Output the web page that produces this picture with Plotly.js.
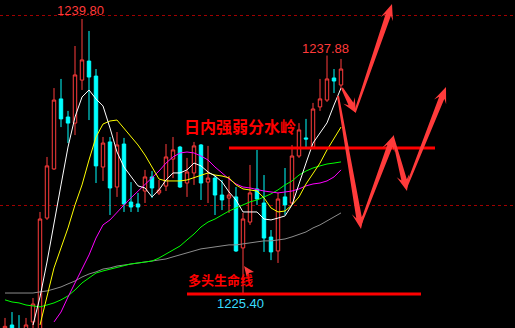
<!DOCTYPE html>
<html>
<head>
<meta charset="utf-8">
<script src="https://cdn.plot.ly/plotly-3.0.1.min.js"></script>
<style>html,body{margin:0;padding:0;background:#000;}#chart{width:515px;height:328px;}</style>
</head>
<body>
<div id="chart"></div>
<script>
// ---- data (49 bars) ----
const openP  = [1223.50,1223.72,1223.45,1223.30,1223.88,1223.00,1229.34,1231.92,1235.60,1234.65,
                1234.33,1236.59,1237.59,1236.80,1232.02,1233.34,1230.97,1233.23,1230.18,1230.08,
                1230.76,1231.50,1230.66,1231.02,1232.44,1233.07,1231.18,1231.71,1233.18,1231.23,
                1231.44,1230.55,1230.39,1230.45,1227.77,1229.13,1230.87,1230.13,1228.34,1227.61,
                1230.45,1230.13,1232.60,1233.55,1233.07,1235.18,1235.54,1236.70,1236.33];
const highP  = [1224.09,1224.40,1224.24,1224.09,1225.14,1229.66,1232.55,1236.17,1236.65,1234.97,
                1238.38,1239.80,1239.17,1237.17,1233.60,1233.60,1233.86,1233.55,1231.23,1230.66,
                1231.87,1231.81,1231.34,1233.23,1233.60,1233.13,1232.50,1233.34,1233.23,1233.13,
                1231.55,1231.34,1231.55,1230.97,1229.61,1232.13,1232.92,1231.60,1228.71,1230.66,
                1231.97,1233.18,1234.33,1234.55,1235.39,1236.65,1237.88,1237.17,1237.70];
const lowP   = [1223.40,1223.20,1223.20,1223.20,1223.50,1222.80,1229.24,1231.87,1234.12,1233.28,
                1233.70,1236.07,1234.49,1231.18,1231.29,1229.50,1230.45,1229.66,1229.66,1229.66,
                1230.13,1230.39,1230.55,1230.76,1231.44,1230.92,1230.45,1231.08,1230.29,1230.13,
                1229.50,1229.76,1229.61,1227.56,1225.40,1228.98,1230.03,1227.56,1227.13,1226.98,
                1229.50,1230.03,1232.50,1233.02,1233.02,1234.97,1235.44,1235.91,1236.17];
const closeP = [1223.65,1223.40,1223.30,1223.72,1224.82,1229.29,1232.08,1235.54,1234.55,1234.33,
                1236.86,1237.65,1236.75,1232.08,1233.28,1230.92,1233.18,1230.08,1229.92,1229.92,
                1231.50,1230.92,1230.81,1232.55,1232.92,1230.97,1231.76,1233.13,1231.18,1231.44,
                1230.55,1230.29,1230.55,1227.61,1229.29,1230.66,1230.34,1228.29,1227.56,1230.34,
                1230.03,1232.60,1233.97,1233.49,1235.07,1235.60,1236.65,1236.54,1237.17];

// moving averages (null where not drawn)
const maWhite = [null,null,null,null,1223.72,1225.19,1227.03,1229.13,1231.08,1233.07,
                 1234.65,1235.70,1236.07,1235.60,1235.23,1234.07,1232.81,1232.02,1231.55,1231.03,
                 1230.92,1230.45,1230.82,1231.34,1231.71,1231.71,1231.87,1232.23,1232.08,1231.76,
                 1231.55,1231.24,1230.71,1230.29,1229.66,1229.66,1229.66,1229.29,1229.24,1229.34,
                 1229.45,1230.03,1231.18,1232.23,1233.28,1233.81,1234.34,1235.28,1236.17];
const maYellow = [null,null,null,null,null,1223.72,1225.30,1226.72,1227.77,1228.82,
                 1230.03,1231.08,1232.39,1233.60,1234.28,1234.44,1234.49,1234.07,1233.60,1233.18,
                 1232.65,1232.02,1231.39,1231.29,1231.29,1231.29,1231.34,1231.45,1231.60,1231.71,
                 1231.60,1231.55,1231.45,1231.08,1230.87,1230.82,1230.76,1230.40,1229.87,1229.66,
                 1229.71,1230.03,1230.45,1231.13,1231.71,1232.23,1232.92,1233.55,1234.12];
const maMagenta = [null,null,null,null,null,null,null,1223.88,1224.40,1225.19,
                 1225.93,1226.72,1227.40,1228.29,1228.98,1229.24,1229.66,1230.03,1230.40,1230.76,
                 1231.08,1231.45,1231.81,1232.23,1232.55,1232.76,1232.81,1232.76,1232.60,1232.39,
                 1232.02,1231.71,1231.39,1231.13,1230.97,1230.92,1230.82,1230.76,1230.71,1230.66,
                 1230.71,1230.76,1230.87,1231.03,1231.13,1231.18,1231.29,1231.50,1231.87];
const maGreen = [1225.04,1224.93,1224.88,1224.77,1224.72,1224.67,1224.77,1224.88,1225.04,1225.25,
                 1225.56,1225.93,1226.19,1226.45,1226.56,1226.66,1226.77,1226.87,1226.93,1226.98,
                 1227.03,1227.08,1227.24,1227.45,1227.66,1227.87,1228.19,1228.50,1228.87,1229.13,
                 1229.29,1229.50,1229.71,1229.87,1230.03,1230.19,1230.29,1230.45,1230.61,1230.82,
                 1231.08,1231.29,1231.60,1231.81,1231.97,1232.08,1232.18,1232.23,1232.29];
const maGray  = [1225.40,1225.40,1225.40,1225.40,1225.40,1225.46,1225.51,1225.61,1225.72,1225.88,
                 1226.03,1226.24,1226.40,1226.51,1226.66,1226.72,1226.82,1226.87,1226.93,1226.98,
                 1227.03,1227.08,1227.14,1227.19,1227.30,1227.40,1227.51,1227.61,1227.72,1227.77,
                 1227.82,1227.87,1227.93,1227.93,1227.98,1228.03,1228.08,1228.14,1228.14,1228.19,
                 1228.24,1228.35,1228.50,1228.61,1228.82,1228.98,1229.19,1229.40,1229.61];

const bars = openP.map((_, i) => i);
const labelHigh = "1239.80", labelRecent = "1237.88", labelLow = "1225.40";
const textPivot = "日内强弱分水岭", textLife = "多头生命线";

// ---- drawing ----
const W = 515, H = 328;
const RED = '#ff3c3c', CYAN = '#00ffff';

const traces = [
  {type:'candlestick', x:bars, open:openP, high:highP, low:lowP, close:closeP,
   increasing:{line:{color:RED, width:1}, fillcolor:'#000000'},
   decreasing:{line:{color:CYAN, width:1}, fillcolor:CYAN},
   hoverinfo:'skip'},
];
const maDefs = [[maGray,'#8c8c8c'],[maGreen,'#00ff00'],[maMagenta,'#ff00ff'],[maYellow,'#ffff00'],[maWhite,'#ffffff']];
maDefs.forEach(([d,c]) => traces.push({type:'scatter', mode:'lines', x:bars, y:d,
   line:{color:c, width:1}, hoverinfo:'skip', connectgaps:false}));

// helpers for decorations (pixel -> paper)
const px = v => v / W, py = v => 1 - v / H;
function arrowPath(x0,y0,x1,y1){
  const dx=x1-x0, dy=y1-y0, L=Math.hypot(dx,dy), ux=dx/L, uy=dy/L, nx=-uy, ny=ux;
  const hl=Math.min(16, L*0.5), hw=6.5, tw=1, sw=2.8;
  const bx=x1-ux*hl*0.72, by=y1-uy*hl*0.72, rx=x1-ux*hl, ry=y1-uy*hl;
  const pts=[[x0+nx*tw,y0+ny*tw],[bx+nx*sw,by+ny*sw],[rx+nx*hw,ry+ny*hw],[x1,y1],
             [rx-nx*hw,ry-ny*hw],[bx-nx*sw,by-ny*sw],[x0-nx*tw,y0-ny*tw]];
  return 'M' + pts.map(p => px(p[0]).toFixed(5)+','+py(p[1]).toFixed(5)).join(' L') + ' Z';
}
const arrowSegs = [[342,88,356,113],[355,112,392,4],[338,96,361,229],[360,226,394,135],[393,137,407,191],[406,188,446,87]];
const shapes = [
  {type:'line', xref:'paper', yref:'paper', x0:px(229), x1:px(435), y0:py(148), y1:py(148), line:{color:'#ff0000', width:3}, layer:'above'},
  {type:'line', xref:'paper', yref:'paper', x0:px(187), x1:px(421), y0:py(294), y1:py(294), line:{color:'#ff0000', width:3}, layer:'above'},
];
arrowSegs.forEach(s => shapes.push({type:'path', xref:'paper', yref:'paper', path:arrowPath(...s),
   fillcolor:'#ff3b3b', line:{width:0}, layer:'above'}));
shapes.push({type:'path', xref:'paper', yref:'paper', layer:'above', fillcolor:'#ff3b3b', line:{width:0},
   path:'M'+px(244)+','+py(266)+' L'+px(254)+','+py(272)+' L'+px(249)+','+py(273)+' L'+px(247)+','+py(278)+' Z'});

const ann = (t,x,y,color,size,family,bold) => ({text: bold ? '<b>'+t+'</b>' : t, xref:'paper', yref:'paper',
   x:px(x), y:py(y), showarrow:false, xanchor:'center', yanchor:'middle',
   font:{color:color, size:size, family:family}});
const annotations = [
  ann(labelHigh, 80, 10.5, '#ff3a3a', 13, 'Liberation Sans, Arial, sans-serif'),
  ann(labelRecent, 325, 48, '#ff3a3a', 13, 'Liberation Sans, Arial, sans-serif'),
  ann(labelLow, 240.5, 303.5, '#38dcff', 13, 'Liberation Sans, Arial, sans-serif'),
  ann(textPivot, 239.5, 126, '#ff0000', 16, 'Noto Sans CJK SC, sans-serif', true),
  ann(textLife, 220.5, 279, '#ff0000', 13, 'Noto Sans CJK SC, sans-serif', true),
];

const layout = {
  width:W, height:H, margin:{l:0,r:0,t:0,b:0,pad:0},
  paper_bgcolor:'#000000', plot_bgcolor:'#000000', showlegend:false, hovermode:false,
  xaxis:{range:[-0.714, 72.857], visible:false, rangeslider:{visible:false}, fixedrange:true},
  yaxis:{range:[1223.562, 1240.798], showticklabels:false, zeroline:false, showline:false, ticks:'',
         tickvals:[1230,1240], showgrid:true, gridcolor:'#a00000', griddash:'dot', gridwidth:1, fixedrange:true},
  shapes:shapes, annotations:annotations
};
Plotly.newPlot('chart', traces, layout, {staticPlot:true, displayModeBar:false});
</script>
</body>
</html>
